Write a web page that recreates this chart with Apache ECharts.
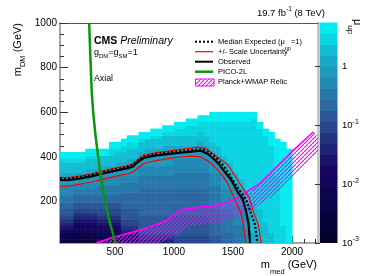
<!DOCTYPE html>
<html><head><meta charset="utf-8">
<script src="https://cdn.jsdelivr.net/npm/echarts@6/dist/echarts.min.js"></script>
<style>html,body{margin:0;padding:0;background:#fff}#c{width:374px;height:276px}</style>
</head><body><div id="c"></div>
<script>
// ---------------- data ----------------
const mMedBinEdges = [0,50,100,150,200,250,300,350,400,450,500,550,600,650,700,750,800,850,900,950,1000,1050,1100,1150,1200,1250,1300,1350,1400,1450,1500,1550,1600,1650,1700,1750,1800,1850,1900,1950,2000];
const mDMBinEdges = [0,15,30,45,60,75,90,105,120,135,150,165,180,195,210,225,240,255,270,285,300,315,330,345,360,375,390,405,420,435,450,465,480,495,510,525,540,555,570,585,600];
// colour level (0..19 -> '0'..'9','a'..'j') of each mDM bin, bottom to top, one string per mMed bin
const levelColumns = [
 "22346 789ab bccdd eeeff gghhh ijj",
 "22346 789ab bccdd eeeff gghhh ijj",
 "22346 789ab bccdd eeeff gghhh ijj",
 "11234 56789 abbcc ddeef gghhh ijj",
 "11234 56789 abbcc ddeef gghhh ijj",
 "11234 56789 abbcc ddeef fgghh hijj",
 "11234 56789 abbcc ddeef fgghh hijj",
 "22345 6789a abbcc dddee efggh hhjj",
 "22345 6789a abbcc dddee efggh hhjj",
 "22345 6789a abbcc dddee efggh hhiij j",
 "22345 6789a abbcc dddee effgg hhhij j",
 "45678 9aabb bcccc cddde effgg hhhii jj",
 "45678 9aabb bcccc cddde efffg ghhhi ijj",
 "45678 9aabb bcccc cddde efffg ghhhi ijj",
 "889ab bbbbc ccccc ccddd deeef fgghh hijj",
 "889ab bbbbc ccccc ccddd deeef ffggh hhjj",
 "889ab bbbbc ccccc ccddd deeef ffggh hhijj",
 "889ab bbbbc ccccc ccddd deeef ffggh hhijj",
 "889ab bbbbc ccccc ccddd deeef fffgg hhhij j",
 "889ab bbbbc ccccc ccddd deeef fffgg hhhij j",
 "aaabb bbbbc ccccc ccddd ddeee effgg hhhii jj",
 "aaabb bbbbc ccccc ccddd ddeee effgg hhhii jj",
 "aaabb bbbbc ccccc ccddd ddeee effgg hhhii ijj",
 "aaabb bbbbc ccccc ccddd ddeee effgg hhhii ijj",
 "aaabb bbbbc ccccc ccddd ddeee efffg ghhhi iijj",
 "aaabb bbbbc ccccc ccddd ddeee effgg hhhii iijj",
 "bbbcc ccccc cdddd dddee eefff fgghh hiiii iijjj",
 "bbbcc ccccc cdddd dddee eefff gghhh iiiii iijjj",
 "ccccd dddddd eeeeee fffff gghhh iiiii iiiii jjj",
 "ccccd dddddd eeeeee fffgg hhhii iiiii iiiii jjj",
 "ddddd deeee eefff ffggh hhiii iiiii iiiii iijjj",
 "ddddd deeee eefff gghhh iiiii iiiii iiiii iijjj",
 "eeeee ffffg ghhhi iiiii iiiii iiiii iiiii iijjj",
 "ggggh hhhhh hhhii iiiii iiiii iiiii iiiii iiijj",
 "gghhh hhhhh hiiii iiiii iiiii iiiii iiiii jj",
 "hhhhh hhiii iiiii iiiii iiiii iiiii iiijj",
 "hhhhi iiiii iiiii iiiii iiiii iiiii jjjj",
 "iiiii iiiii iiiii iiiii ijjjj jjjjj jj",
 "iiiii ijjjj jjjjj jjjjj jjjjj jjjjj j",
 "jjjjj jjjjj jjjjj jjjjj jjjjj jjjj"
];
// contours: [mMed, mDM]
const observed = [[35,297],[100,296],[200,303],[300,313],[400,326],[500,338],[600,349],[650,357],[700,380],[750,397],[850,407],[950,413],[1050,419],[1150,424],[1230,428],[1290,412],[1340,390],[1384,366],[1424,337],[1483,299],[1542,241],[1582,212],[1610,160],[1632,98],[1645,15]];
const expected = [[35,304],[100,303],[200,310],[300,320],[400,333],[500,345],[600,356],[650,364],[700,386],[750,403],[850,414],[950,420],[1050,426],[1150,431],[1240,435],[1300,421],[1360,396],[1412,366],[1460,330],[1520,278],[1570,240],[1610,210],[1645,160],[1686,98],[1707,15]];
const scaleUp = [[35,309],[100,308],[200,315],[300,325],[400,338],[500,350],[600,361],[650,369],[700,391],[750,409],[850,420],[950,426],[1050,433],[1150,440],[1200,444],[1260,440],[1320,420],[1380,395],[1455,366],[1500,330],[1560,280],[1610,240],[1638,217],[1670,160],[1714,98],[1738,15]];
const scaleDown = [[35,270],[100,270],[200,278],[300,288],[400,300],[500,313],[600,324],[650,331],[700,353],[750,372],[850,384],[950,393],[1050,400],[1150,404],[1229,401],[1314,372],[1398,327],[1455,283],[1511,215],[1568,148],[1590,91],[1610,15]];
const pico2L = [[282,1000],[292,850],[303,700],[316,600],[335,500],[358,400],[385,300],[418,200],[455,110],[505,15]];
const relic = [[340,15],[466,37],[664,66],[805,88],[946,118],[1052,163],[1137,170],[1250,178],[1391,187],[1504,208],[1617,245],[1729,282],[1843,342],[1985,417],[2182,513]];
// axes
const xTicks = [500,1000,1500,2000];
const xMinorTicks = [100,200,300,400,600,700,800,900,1100,1200,1300,1400,1600,1700,1800,1900,2100,2200];
const yTicks = [200,400,600,800,1000];
const yMinorTicks = [50,100,150,250,300,350,450,500,550,650,700,750,850,900,950];
const zTicks = [0.001,0.01,0.1,1];
const zMinorTicks = [0.002,0.003,0.004,0.005,0.006,0.007,0.008,0.009,0.02,0.03,0.04,0.05,0.06,0.07,0.08,0.09,0.2,0.3,0.4,0.5,0.6,0.7,0.8,0.9,2,3,4,5];
const zRange = [0.001, 5.43];
const nContours = 20;

// ---------------- styling helpers ----------------
const F = '"Liberation Sans", Arial, Helvetica, sans-serif';
const LEVEL_CHARS = '0123456789abcdefghij';
const STOPS = [0.00,0.34,0.61,0.84,1.00];
const PR = [0.00,0.09,0.18,0.09,0.00];
const PG = [0.01,0.02,0.39,0.68,0.97];
const PB = [0.17,0.39,0.62,0.79,0.97];
function paletteColor(f){
  let i = 0; while (i < STOPS.length-2 && f > STOPS[i+1]) i++;
  const t = (f-STOPS[i])/(STOPS[i+1]-STOPS[i]);
  const c = a => Math.round(255*(a[i]+(a[i+1]-a[i])*t));
  return 'rgb('+c(PR)+','+c(PG)+','+c(PB)+')';
}
function levelColor(k){ return paletteColor((k+0.5)/nContours); }

const heatData = [];
levelColumns.forEach((col, c) => {
  col.replace(/ /g,'').split('').forEach((ch, j) => {
    heatData.push([mMedBinEdges[c], mMedBinEdges[c+1], mDMBinEdges[j], mDMBinEdges[j+1], LEVEL_CHARS.indexOf(ch)]);
  });
});
const zLo = Math.log10(zRange[0]), zHi = Math.log10(zRange[1]);
const barData = [];
for (let k = 0; k < nContours; k++) barData.push([0, 1, zLo+(zHi-zLo)*k/nContours, zLo+(zHi-zLo)*(k+1)/nContours, k]);

const hatchCanvas = document.createElement('canvas');
hatchCanvas.width = 4; hatchCanvas.height = 4;
const hc = hatchCanvas.getContext('2d');
hc.strokeStyle = '#ff00ff'; hc.lineWidth = 1.1;
hc.beginPath(); hc.moveTo(-1,5); hc.lineTo(5,-1); hc.stroke();
const hatchPattern = {image: hatchCanvas, repeat: 'repeat'};

function renderCell(params, api){
  const p0 = api.coord([api.value(0), api.value(3)]);
  const p1 = api.coord([api.value(1), api.value(2)]);
  return {type:'rect', shape:{x:p0[0], y:p0[1]-0.5, width:p1[0]-p0[0]+0.5, height:p1[1]-p0[1]+0.5}, style:{fill: levelColor(api.value(4))}};
}
function renderHatch(params, api){
  const pts = relic.map(p => api.coord(p));
  const W = 18;
  const off = pts.map((p,i) => {
    const a = pts[Math.max(0,i-1)], b = pts[Math.min(pts.length-1,i+1)];
    let dx = b[0]-a[0], dy = b[1]-a[1]; const L = Math.hypot(dx,dy) || 1; dx /= L; dy /= L;
    return [p[0]-dy*W, p[1]+dx*W];
  });
  return {type:'polygon', shape:{points: pts.concat(off.reverse())}, style:{fill: hatchPattern, stroke: null}};
}

const tickStyle = {color:'#333', width:1};
const plain = v => String(Math.round(v));
const lineSeries = (data, color, width, type, z) => ({
  type:'line', data, xAxisIndex:0, yAxisIndex:0, symbol:'none', showSymbol:false, smooth:false, clip:true, silent:true, z,
  lineStyle:{color, width, type}
});

const chart = echarts.init(document.getElementById('c'), null, {renderer:'canvas', width:374, height:276});
chart.setOption({
  animation:false,
  backgroundColor:'#fff',
  grid:[
    {left:60, top:23, width:258, height:220, outerBoundsMode:'none', containLabel:false},
    {left:320, top:23, width:17, height:220, outerBoundsMode:'none', containLabel:false}
  ],
  xAxis:[
    {gridIndex:0, type:'value', min:35, max:2220, position:'bottom',
     axisLine:{show:true, onZero:false, lineStyle:{color:'#888', width:1.5}},
     axisTick:{show:true, inside:true, length:7, customValues:xTicks, lineStyle:tickStyle},
     axisLabel:{show:true, customValues:xTicks, formatter:plain, fontSize:10, fontFamily:F, color:'#000', margin:4, hideOverlap:false},
     splitLine:{show:false}},
    {gridIndex:0, type:'value', min:35, max:2220, position:'bottom',
     axisLine:{show:false, onZero:false}, axisTick:{show:true, inside:true, length:4, customValues:xMinorTicks, lineStyle:tickStyle},
     axisLabel:{show:false}, splitLine:{show:false}},
    {gridIndex:0, type:'value', min:35, max:2220, position:'top',
     axisLine:{show:true, onZero:false, lineStyle:{color:'#555', width:1}}, axisTick:{show:false}, axisLabel:{show:false}, splitLine:{show:false}},
    {gridIndex:1, type:'value', min:0, max:1, show:false}
  ],
  yAxis:[
    {gridIndex:0, type:'value', min:15, max:1000, position:'left',
     axisLine:{show:true, onZero:false, lineStyle:{color:'#888', width:1.5}},
     axisTick:{show:true, inside:true, length:8, customValues:yTicks, lineStyle:tickStyle},
     axisLabel:{show:true, customValues:yTicks, formatter:plain, fontSize:10, fontFamily:F, color:'#000', margin:3, hideOverlap:false},
     splitLine:{show:false}},
    {gridIndex:0, type:'value', min:15, max:1000, position:'left',
     axisLine:{show:false, onZero:false}, axisTick:{show:true, inside:true, length:4, customValues:yMinorTicks, lineStyle:tickStyle},
     axisLabel:{show:false}, splitLine:{show:false}},
    {gridIndex:0, type:'value', min:15, max:1000, position:'right',
     axisLine:{show:true, onZero:false, lineStyle:{color:'#bbb', width:2.5}}, axisTick:{show:false}, axisLabel:{show:false}, splitLine:{show:false}},
    {gridIndex:1, type:'value', min:zLo, max:zHi, position:'right',
     axisLine:{show:false},
     axisTick:{show:true, inside:true, length:5, customValues:zTicks.map(Math.log10), lineStyle:tickStyle},
     axisLabel:{show:true, customValues:zTicks.map(Math.log10), margin:5, hideOverlap:false,
       formatter: v => { const e = Math.round(v); return e === 0 ? '{b|1}' : '{b|10}{s|'+e+'}'; },
       rich:{b:{fontSize:9.5, fontFamily:F, color:'#000', lineHeight:14, verticalAlign:'middle'},
             s:{fontSize:7, fontFamily:F, color:'#000', lineHeight:7, verticalAlign:'top'}}},
     splitLine:{show:false}},
    {gridIndex:1, type:'value', min:zLo, max:zHi, position:'right',
     axisLine:{show:false}, axisTick:{show:true, inside:true, length:3, customValues:zMinorTicks.map(Math.log10), lineStyle:tickStyle},
     axisLabel:{show:false}, splitLine:{show:false}}
  ],
  series:[
    {type:'custom', name:'limit', xAxisIndex:0, yAxisIndex:0, data:heatData, encode:{x:[0,1], y:[2,3]}, renderItem:renderCell, clip:true, silent:true, z:1},
    {type:'custom', name:'relicHatch', xAxisIndex:0, yAxisIndex:0, data:[relic[0]], renderItem:renderHatch, clip:true, silent:true, z:2},
    lineSeries(relic, '#ff00ff', 1.6, 'solid', 3),
    lineSeries(scaleUp, '#ff0000', 1.2, 'solid', 4),
    lineSeries(scaleDown, '#ff0000', 1.2, 'solid', 4),
    lineSeries(expected, '#000', 2.2, [2,2], 5),
    lineSeries(observed, '#000', 2.2, 'solid', 6),
    lineSeries(pico2L, '#0a960a', 2.5, 'solid', 7),
    {type:'custom', name:'colorbar', xAxisIndex:3, yAxisIndex:3, data:barData, encode:{x:[0,1], y:[2,3]}, renderItem:renderCell, silent:true, z:1}
  ],
  graphic:[
    {type:'text', x:325, y:13.5, silent:true, style:{text:'{a|19.7 fb}{s|-1}{a| (8 TeV)}', align:'right', verticalAlign:'middle',
      rich:{a:{fontSize:9.5, fontFamily:F, fill:'#000', lineHeight:16, verticalAlign:'middle'}, s:{fontSize:6.5, fontFamily:F, fill:'#000', lineHeight:6, verticalAlign:'top'}}}},
    {type:'text', x:94, y:41, silent:true, style:{text:'{b|CMS}{i| Preliminary}', align:'left', verticalAlign:'middle',
      rich:{b:{fontSize:10.5, fontFamily:F, fontWeight:'bold', fill:'#000'}, i:{fontSize:10.5, fontFamily:F, fontStyle:'italic', fill:'#000'}}}},
    {type:'text', x:94, y:52.7, silent:true, style:{text:'{a|g}{s|DM}{a|=g}{s|SM}{a|=1}', align:'left', verticalAlign:'middle',
      rich:{a:{fontSize:9, fontFamily:F, fill:'#000', lineHeight:14, verticalAlign:'middle'}, s:{fontSize:6, fontFamily:F, fill:'#000', lineHeight:6, verticalAlign:'bottom'}}}},
    {type:'text', x:94, y:79, silent:true, style:{text:'Axial', align:'left', verticalAlign:'middle', fontSize:8.8, fontFamily:F, fill:'#000'}},
    {type:'text', x:317, y:264.5, silent:true, style:{text:'{a|m}{s|med}{a| (GeV)}', align:'right', verticalAlign:'middle',
      rich:{a:{fontSize:11, fontFamily:F, fill:'#000', lineHeight:22, verticalAlign:'middle'}, s:{fontSize:7.5, fontFamily:F, fill:'#000', lineHeight:8, verticalAlign:'bottom'}}}},
    {type:'text', x:17.5, y:23, rotation:Math.PI/2, silent:true, style:{text:'{a|m}{s|DM}{a| (GeV)}', align:'right', verticalAlign:'middle',
      rich:{a:{fontSize:11, fontFamily:F, fill:'#000', lineHeight:18, verticalAlign:'middle'}, s:{fontSize:7.5, fontFamily:F, fill:'#000', lineHeight:8, verticalAlign:'bottom'}}}},
    {type:'text', x:357, y:19, rotation:-Math.PI/2, silent:true, style:{text:'{a|\u03bc}{s|up}', align:'left', verticalAlign:'middle',
      rich:{a:{fontSize:11, fontFamily:F, fill:'#000', lineHeight:22, verticalAlign:'middle'}, s:{fontSize:8, fontFamily:F, fill:'#000', lineHeight:6, verticalAlign:'bottom'}}}},
    // legend
    {type:'line', silent:true, shape:{x1:195, y1:41.7, x2:213, y2:41.7}, style:{stroke:'#000', lineWidth:2, lineDash:[2,2]}},
    {type:'line', silent:true, shape:{x1:195, y1:51.7, x2:213, y2:51.7}, style:{stroke:'#ff0000', lineWidth:1.2}},
    {type:'line', silent:true, shape:{x1:195, y1:61.7, x2:213, y2:61.7}, style:{stroke:'#000', lineWidth:2}},
    {type:'line', silent:true, shape:{x1:195, y1:71.7, x2:213, y2:71.7}, style:{stroke:'#0a960a', lineWidth:2.5}},
    {type:'rect', silent:true, shape:{x:195.5, y:79, width:18.5, height:7}, style:{fill:hatchPattern, stroke:'#ff00ff', lineWidth:1}},
    {type:'text', x:218, y:41.7, silent:true, style:{text:'{a|Median Expected (\u03bc}{s|up}{a|=1)}', align:'left', verticalAlign:'middle',
      rich:{a:{fontSize:7.5, fontFamily:F, fill:'#000', lineHeight:20, verticalAlign:'middle'}, s:{fontSize:5.5, fontFamily:F, fill:'#000', lineHeight:7, verticalAlign:'bottom'}}}},
    {type:'text', x:218, y:51.7, silent:true, style:{text:'+/- Scale Uncertainty', align:'left', verticalAlign:'middle', fontSize:7.5, fontFamily:F, fill:'#000'}},
    {type:'text', x:218, y:61.7, silent:true, style:{text:'Observed', align:'left', verticalAlign:'middle', fontSize:7.5, fontFamily:F, fill:'#000'}},
    {type:'text', x:218, y:71.7, silent:true, style:{text:'PICO-2L', align:'left', verticalAlign:'middle', fontSize:7.5, fontFamily:F, fill:'#000'}},
    {type:'text', x:218, y:82.3, silent:true, style:{text:'Planck+WMAP Relic', align:'left', verticalAlign:'middle', fontSize:7.5, fontFamily:F, fill:'#000'}}
  ]
});
</script>
</body></html>
